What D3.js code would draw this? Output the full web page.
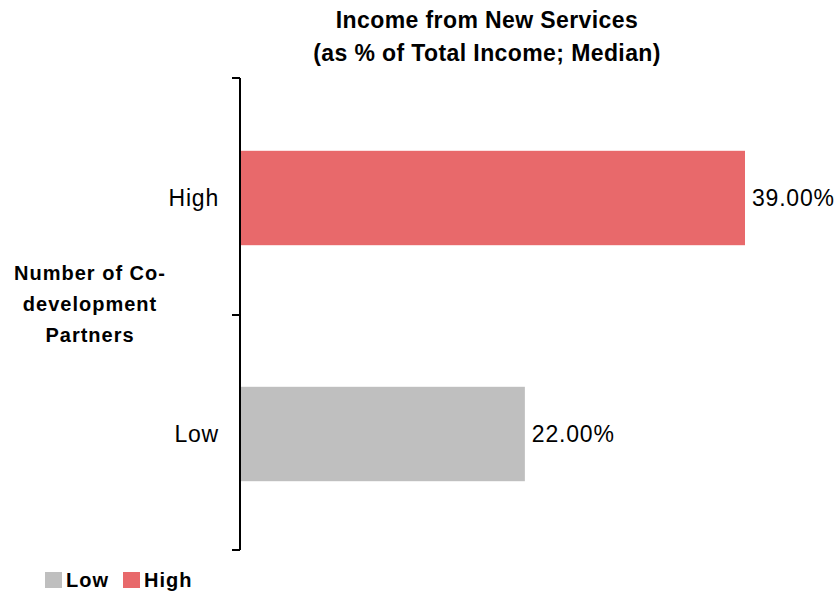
<!DOCTYPE html>
<html><head><meta charset="utf-8">
<script src="https://cdn.jsdelivr.net/npm/d3@7"></script>
<style>
body{margin:0;background:#fff;}
text{font-family:"Liberation Sans", Arial, sans-serif;fill:#000;}
</style></head>
<body>
<svg id="chart" width="840" height="594"></svg>
<script>
const categories = ["High", "Low"];
const values = [39.0, 22.0];
const colors = ["#E8696B", "#BFBFBF"];
const titleLines = ["Income from New Services", "(as % of Total Income; Median)"];
const yTitleLines = ["Number of Co-", "development", "Partners"];
const legendItems = ["Low", "High"];
const legendColors = ["#BFBFBF", "#E8696B"];

const svg = d3.select("#chart");
const x = d3.scaleLinear().domain([0, 39]).range([240, 745]);
const y = d3.scaleBand().domain(categories).range([80, 552]).paddingInner(0.6).paddingOuter(0.3);

// title
svg.append("text").attr("text-anchor", "middle")
  .style("font-weight", "bold").style("font-size", "23px").style("letter-spacing", "0.4px")
  .selectAll("tspan").data(titleLines).join("tspan")
  .attr("x", 487).attr("y", (d, i) => 28 + i * 33).text(d => d);

// bars
svg.selectAll("rect.bar").data(categories).join("rect")
  .attr("class", "bar")
  .attr("x", x(0)).attr("y", d => y(d))
  .attr("width", (d, i) => x(values[i]) - x(0))
  .attr("height", y.bandwidth())
  .attr("fill", (d, i) => colors[i]);

// value labels
svg.selectAll("text.val").data(categories).join("text")
  .attr("class", "val")
  .attr("x", (d, i) => x(values[i]) + 7)
  .attr("y", d => y(d) + y.bandwidth() / 2)
  .attr("dy", "0.35em")
  .style("font-size", "23px").style("letter-spacing", "0.8px")
  .text((d, i) => values[i].toFixed(2) + "%");

// axis line with boundary ticks
const yTicks = [78, 315, 550];
svg.append("line").attr("x1", 240).attr("x2", 240).attr("y1", 78).attr("y2", 550)
  .attr("stroke", "#000").attr("stroke-width", 2);
svg.selectAll("line.tk").data(yTicks).join("line").attr("class", "tk")
  .attr("x1", 232).attr("x2", 240).attr("y1", d => d).attr("y2", d => d)
  .attr("stroke", "#000").attr("stroke-width", 2);

// category labels
svg.selectAll("text.cat").data(categories).join("text")
  .attr("class", "cat")
  .attr("x", 219).attr("text-anchor", "end")
  .attr("y", d => y(d) + y.bandwidth() / 2)
  .attr("dy", "0.35em")
  .style("font-size", "23px").style("letter-spacing", "0.8px")
  .text(d => d);

// y title
svg.append("text").attr("text-anchor", "middle")
  .style("font-weight", "bold").style("font-size", "20px").style("letter-spacing", "1px")
  .selectAll("tspan").data(yTitleLines).join("tspan")
  .attr("x", 90).attr("y", (d, i) => 280 + i * 31).text(d => d);

// legend
const lg = svg.append("g");
const lgX = [45, 123];
lg.selectAll("rect").data(legendItems).join("rect")
  .attr("x", (d, i) => lgX[i]).attr("y", 572)
  .attr("width", 17).attr("height", 16)
  .attr("fill", (d, i) => legendColors[i]);
lg.selectAll("text").data(legendItems).join("text")
  .attr("x", (d, i) => lgX[i] + 21).attr("y", 580).attr("dy", "0.35em")
  .style("font-weight", "bold").style("font-size", "20px").style("letter-spacing", "1px")
  .text(d => d);
</script>
</body></html>
